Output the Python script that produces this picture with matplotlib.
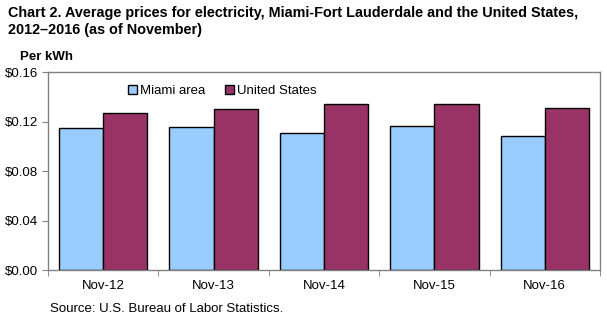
import numpy as np
import matplotlib
matplotlib.use("Agg")
from matplotlib import pyplot as plt
from matplotlib.ticker import FuncFormatter, MultipleLocator

# data
categories = ["Nov-12", "Nov-13", "Nov-14", "Nov-15", "Nov-16"]
miami = [0.1144, 0.1152, 0.1104, 0.1160, 0.1080]
united_states = [0.1272, 0.1304, 0.1345, 0.1345, 0.1312]
series_names = ["Miami area", "United States"]

plt.rcParams['font.family'] = ['Liberation Sans', 'DejaVu Sans']

W, H = 607, 322
fig = plt.figure(figsize=(W / 100, H / 100), dpi=100)
ax = fig.add_axes([48 / W, 1 - 270 / H, (600 - 48) / W, (270 - 72) / H])

x = np.arange(len(categories))
bw = 0.4
ax.bar(x - bw / 2, miami, bw, color="#99CCFF", edgecolor="black", linewidth=1.0, label=series_names[0])
ax.bar(x + bw / 2, united_states, bw, color="#993366", edgecolor="black", linewidth=1.0, label=series_names[1])

ax.set_xlim(-0.5, len(categories) - 0.5)
ax.set_ylim(0, 0.16)
ax.yaxis.set_major_locator(MultipleLocator(0.04))
ax.yaxis.set_major_formatter(FuncFormatter(lambda v, p: f"${v:.2f}"))

ax.set_xticks(x)
ax.set_xticklabels(categories)
ax.set_xticks(np.arange(-0.5, len(categories)), minor=True)
ax.tick_params(axis="x", which="major", length=0, labelsize=9.5, pad=7)
ax.tick_params(axis="x", which="minor", length=4, color="#808080")
ax.tick_params(axis="y", length=4, color="#808080", labelsize=9.5, pad=3)

for s in ax.spines.values():
    s.set_color("#808080")
    s.set_linewidth(1.0)

ax.legend(loc="upper left", bbox_to_anchor=(0.135, 0.96), ncol=2, frameon=False,
          fontsize=9.5, handlelength=0.7, handleheight=0.7, handletextpad=0.2,
          columnspacing=1.5, borderaxespad=0)

fig.text(8 / W, 1 - 6 / H, "Chart 2. Average prices for electricity, Miami-Fort Lauderdale and the United States,\n2012\u20132016 (as of November)",
         ha="left", va="top", fontsize=10.4, fontweight="bold", linespacing=1.3)
fig.text(20 / W, 1 - 57 / H, "Per kWh", ha="left", va="center", fontsize=9.5, fontweight="bold")
fig.text(50 / W, 1 - 309 / H, "Source: U.S. Bureau of Labor Statistics.", ha="left", va="center", fontsize=9.5)

fig.savefig("out.png", dpi=100)
